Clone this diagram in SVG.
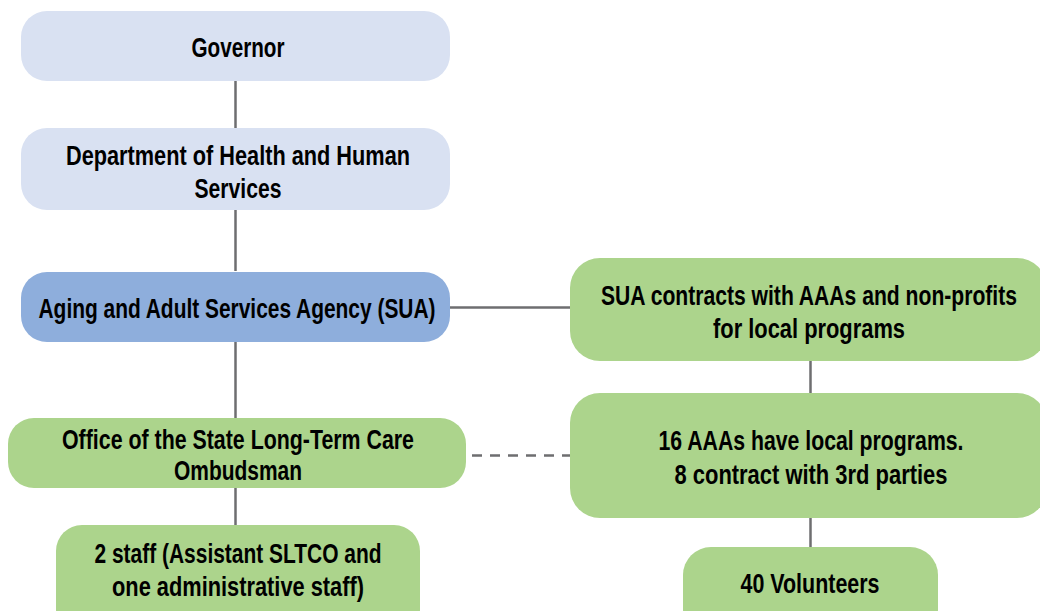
<svg xmlns="http://www.w3.org/2000/svg" width="1040" height="611" viewBox="0 0 1040 611">
<style>
.lb{fill:#d9e1f2}
.bl{fill:#8eaedc}
.gr{fill:#acd48c}
.c{stroke:#6e6e70;stroke-width:2.5;fill:none}
.d{stroke:#6e6e70;stroke-width:2.5;fill:none;stroke-dasharray:10 8}
text{font-family:"Liberation Sans Narrow","Liberation Sans",Arial,sans-serif;font-weight:bold;font-size:28px;fill:#000;text-anchor:middle}
</style>
<rect width="1040" height="611" fill="#ffffff"/>
<g id="connectors">
<line class="c" x1="235.5" y1="81" x2="235.5" y2="128"/>
<line class="c" x1="235.5" y1="210" x2="235.5" y2="271"/>
<line class="c" x1="235.5" y1="341" x2="235.5" y2="418"/>
<line class="c" x1="235.5" y1="488" x2="235.5" y2="525"/>
<line class="c" x1="450" y1="307.5" x2="570" y2="307.5"/>
<line class="d" x1="472" y1="455.5" x2="570" y2="455.5"/>
<line class="c" x1="810.5" y1="361" x2="810.5" y2="393"/>
<line class="c" x1="810.5" y1="518" x2="810.5" y2="547"/>
</g>
<g id="governor">
<rect class="lb" x="21" y="11" width="429" height="70" rx="26"/>
<text x="238" y="57" textLength="93" lengthAdjust="spacingAndGlyphs">Governor</text>
</g>
<g id="dhhs">
<rect class="lb" x="21" y="128" width="429" height="82" rx="26"/>
<text x="238" y="165" textLength="344" lengthAdjust="spacingAndGlyphs">Department of Health and Human</text>
<text x="238" y="198" textLength="87" lengthAdjust="spacingAndGlyphs">Services</text>
</g>
<g id="sua">
<rect class="bl" x="21" y="272" width="429" height="70" rx="26"/>
<text x="237" y="318" textLength="397" lengthAdjust="spacingAndGlyphs">Aging and Adult Services Agency (SUA)</text>
</g>
<g id="ombudsman">
<rect class="gr" x="8" y="418" width="458" height="70" rx="26"/>
<text x="238" y="449" textLength="352" lengthAdjust="spacingAndGlyphs">Office of the State Long-Term Care</text>
<text x="238" y="480" textLength="128" lengthAdjust="spacingAndGlyphs">Ombudsman</text>
</g>
<g id="staff">
<rect class="gr" x="56" y="525" width="364" height="110" rx="26"/>
<text x="238" y="563" textLength="287" lengthAdjust="spacingAndGlyphs">2 staff (Assistant SLTCO and</text>
<text x="238" y="596" textLength="252" lengthAdjust="spacingAndGlyphs">one administrative staff)</text>
</g>
<g id="contracts">
<rect class="gr" x="570" y="258" width="477" height="103" rx="30"/>
<text x="809" y="305" textLength="416" lengthAdjust="spacingAndGlyphs">SUA contracts with AAAs and non-profits</text>
<text x="809" y="338" textLength="192" lengthAdjust="spacingAndGlyphs">for local programs</text>
</g>
<g id="aaas">
<rect class="gr" x="570" y="393" width="477" height="125" rx="30"/>
<text x="811" y="450" textLength="305" lengthAdjust="spacingAndGlyphs">16 AAAs have local programs.</text>
<text x="811" y="484" textLength="273" lengthAdjust="spacingAndGlyphs">8 contract with 3rd parties</text>
</g>
<g id="volunteers">
<rect class="gr" x="683" y="547" width="255" height="90" rx="28"/>
<text x="810" y="593" textLength="139" lengthAdjust="spacingAndGlyphs">40 Volunteers</text>
</g>
</svg>
